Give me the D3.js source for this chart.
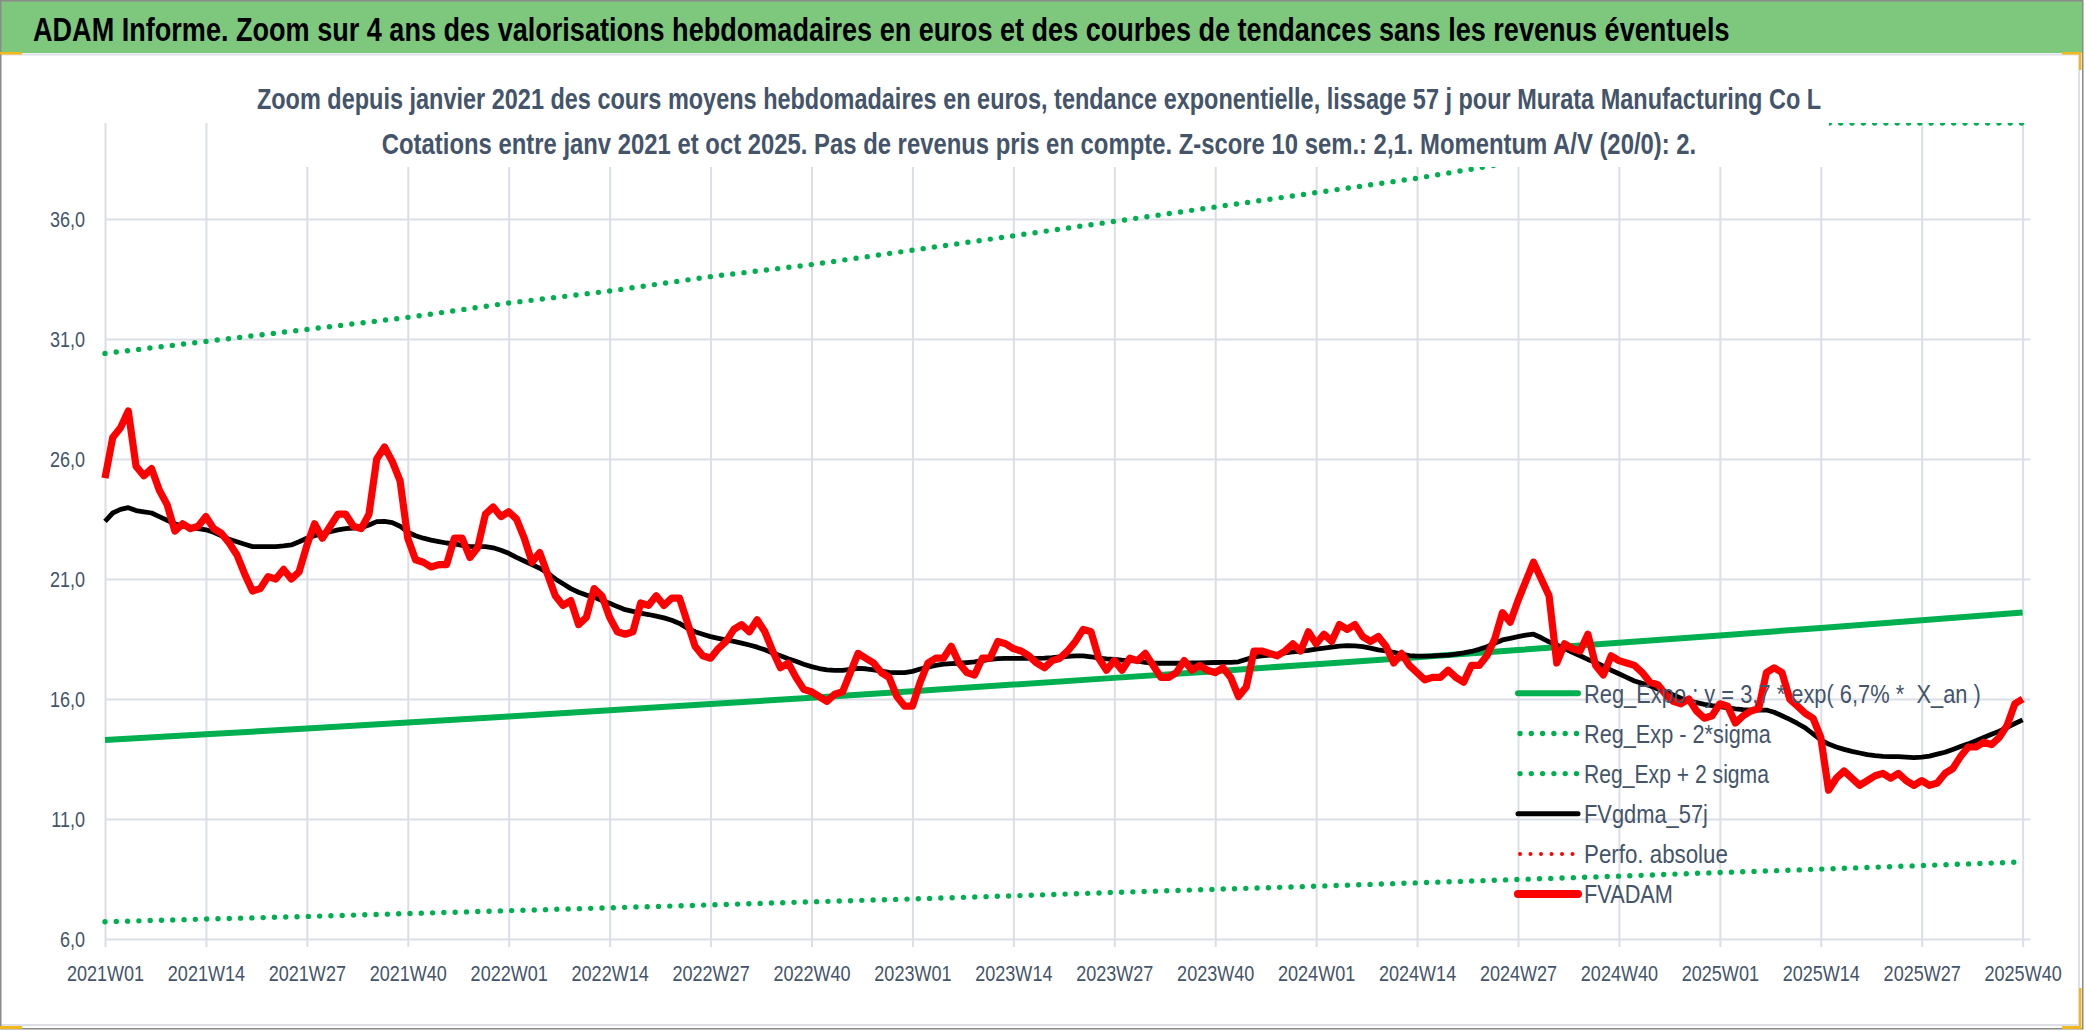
<!DOCTYPE html>
<html lang="fr">
<head>
    <meta charset="UTF-8">
    <title>ADAM Informe - Murata Manufacturing Co L</title>
    <script src="https://d3js.org/d3.v7.min.js"></script>
    <style>
        body {
            margin: 0;
            padding: 0;
            background: #ffffff;
        }
        svg {
            display: block;
            font-family: "Liberation Sans", Arial, sans-serif;
        }
    </style>
</head>
<body>
<div id="wrapper"></div>
<script>
// 1. Data

const years = ["2021", "2022", "2023", "2024", "2025"]
// ISO weeks, 52 per year here; the last category (2025W41) stays empty
const weeks = []
years.forEach(yr => {
    for (let w = 1; w <= 52; w++) weeks.push(yr + "W" + String(w).padStart(2, "0"))
})
weeks.length = 249

const tickLabels = [
    "2021W01", "2021W14", "2021W27", "2021W40",
    "2022W01", "2022W14", "2022W27", "2022W40",
    "2023W01", "2023W14", "2023W27", "2023W40",
    "2024W01", "2024W14", "2024W27", "2024W40",
    "2025W01", "2025W14", "2025W27", "2025W40"
]
const yTicks = [6, 11, 16, 21, 26, 31, 36]

// FVADAM, weekly average price in euros (2021W01 -> 2025W40)
const fvadam = [
    25.2, 26.9, 27.3, 28.0, 25.7, 25.3, 25.6, 24.7, 24.1, 23.0,
    23.3, 23.1, 23.2, 23.6, 23.1, 22.9, 22.5, 22.0, 21.2, 20.5,
    20.6, 21.1, 21.0, 21.4, 21.0, 21.3, 22.4, 23.3, 22.7, 23.2,
    23.7, 23.7, 23.2, 23.1, 23.7, 26.0, 26.5, 25.9, 25.1, 22.7,
    21.8, 21.7, 21.5, 21.6, 21.6, 22.7, 22.7, 21.9, 22.3, 23.7,
    24.0, 23.6, 23.8, 23.5, 22.7, 21.7, 22.1, 21.2, 20.3, 19.9,
    20.1, 19.1, 19.4, 20.6, 20.3, 19.4, 18.8, 18.7, 18.8, 20.0,
    19.9, 20.3, 19.9, 20.2, 20.2, 19.2, 18.2, 17.8, 17.7, 18.1,
    18.4, 18.9, 19.1, 18.8, 19.3, 18.8, 18.0, 17.3, 17.5, 16.9,
    16.4, 16.3, 16.1, 15.9, 16.2, 16.3, 17.1, 17.9, 17.7, 17.5,
    17.1, 16.9, 16.1, 15.7, 15.7, 16.7, 17.5, 17.7, 17.7, 18.2,
    17.5, 17.1, 17.0, 17.7, 17.7, 18.4, 18.3, 18.1, 18.0, 17.8,
    17.5, 17.3, 17.6, 17.7, 18.0, 18.4, 18.9, 18.8, 17.7, 17.2,
    17.6, 17.2, 17.7, 17.6, 17.9, 17.4, 16.9, 16.9, 17.1, 17.6,
    17.2, 17.4, 17.2, 17.1, 17.3, 16.9, 16.1, 16.5, 18.0, 18.0,
    17.9, 17.8, 18.0, 18.3, 18.0, 18.8, 18.3, 18.7, 18.4, 19.1,
    18.9, 19.1, 18.6, 18.4, 18.6, 18.2, 17.5, 17.9, 17.4, 17.1,
    16.8, 16.9, 16.9, 17.2, 16.9, 16.7, 17.4, 17.4, 17.8, 18.5,
    19.6, 19.2, 20.1, 20.9, 21.7, 21.0, 20.3, 17.5, 18.3, 18.1,
    18.0, 18.7, 17.4, 17.0, 17.8, 17.6, 17.5, 17.4, 17.1, 16.7,
    16.6, 16.2, 15.9, 15.8, 16.0, 15.5, 15.2, 15.3, 15.8, 15.7,
    15.0, 15.3, 15.5, 15.6, 17.1, 17.3, 17.1, 16.0, 15.7, 15.4,
    15.2, 14.4, 12.2, 12.7, 13.0, 12.7, 12.4, 12.6, 12.8, 12.9,
    12.7, 12.9, 12.6, 12.4, 12.6, 12.4, 12.5, 12.9, 13.1, 13.6,
    14.0, 14.0, 14.2, 14.1, 14.4, 14.9, 15.8, 16.0
]

// FVgdma_57j, smoothed curve
const fvgdma = [
    23.40, 23.75, 23.90, 23.97, 23.85, 23.80, 23.75, 23.60, 23.45, 23.30,
    23.20, 23.15, 23.10, 23.05, 22.95, 22.80, 22.65, 22.55, 22.45, 22.35,
    22.35, 22.35, 22.35, 22.38, 22.42, 22.55, 22.70, 22.80, 22.90, 22.97,
    23.05, 23.10, 23.12, 23.14, 23.25, 23.39, 23.40, 23.35, 23.20, 22.95,
    22.80, 22.70, 22.62, 22.56, 22.50, 22.46, 22.40, 22.35, 22.35, 22.35,
    22.30, 22.20, 22.07, 21.90, 21.75, 21.60, 21.45, 21.25, 21.00, 20.80,
    20.60, 20.45, 20.33, 20.25, 20.10, 19.99, 19.85, 19.72, 19.65, 19.58,
    19.52, 19.45, 19.38, 19.28, 19.15, 18.95, 18.80, 18.70, 18.60, 18.53,
    18.46, 18.40, 18.33, 18.25, 18.16, 18.05, 17.92, 17.80, 17.68, 17.57,
    17.45, 17.35, 17.27, 17.21, 17.19, 17.19, 17.23, 17.28, 17.26, 17.21,
    17.16, 17.11, 17.10, 17.10, 17.15, 17.25, 17.33, 17.40, 17.45, 17.47,
    17.49, 17.52, 17.55, 17.60, 17.65, 17.68, 17.69, 17.69, 17.69, 17.69,
    17.69, 17.70, 17.72, 17.75, 17.78, 17.80, 17.80, 17.76, 17.70, 17.67,
    17.65, 17.62, 17.60, 17.58, 17.53, 17.49, 17.49, 17.49, 17.49, 17.49,
    17.50, 17.50, 17.51, 17.52, 17.53, 17.53, 17.55, 17.65, 17.75, 17.80,
    17.83, 17.86, 17.92, 17.96, 18.00, 18.03, 18.08, 18.12, 18.16, 18.20,
    18.22, 18.21, 18.18, 18.12, 18.05, 18.00, 17.94, 17.87, 17.81, 17.79,
    17.79, 17.80, 17.82, 17.83, 17.87, 17.92, 17.98, 18.07, 18.18, 18.32,
    18.46, 18.53, 18.60, 18.66, 18.70, 18.55, 18.38, 18.25, 18.10, 17.95,
    17.80, 17.65, 17.52, 17.37, 17.20, 17.05, 16.90, 16.75, 16.65, 16.55,
    16.42, 16.30, 16.17, 16.03, 15.92, 15.85, 15.78, 15.72, 15.68, 15.63,
    15.59, 15.56, 15.54, 15.54, 15.54, 15.45, 15.30, 15.15, 14.98, 14.80,
    14.55, 14.30, 14.12, 14.00, 13.90, 13.82, 13.75, 13.68, 13.64, 13.61,
    13.60, 13.60, 13.58, 13.56, 13.58, 13.62, 13.70, 13.78, 13.90, 14.02,
    14.13, 14.26, 14.40, 14.53, 14.66, 14.82, 14.98, 15.13
]

// trend curves, read at each labelled week
const regExpo = [14.29, 14.53, 14.77, 15.02, 15.27, 15.53, 15.79, 16.05, 16.32, 16.60,
                 16.88, 17.16, 17.45, 17.74, 18.04, 18.34, 18.65, 18.96, 19.28, 19.60]
const regMinus = [6.72, 6.83, 6.94, 7.06, 7.18, 7.30, 7.42, 7.55, 7.67, 7.80,
                  7.94, 8.07, 8.20, 8.34, 8.48, 8.62, 8.77, 8.91, 9.06, 9.21]
const regPlus = [30.4, 30.9, 31.4, 31.9, 32.5, 33.0, 33.6, 34.1, 34.7, 35.3,
                 35.9, 36.5, 37.1, 37.7, 38.4, 39.0, 39.7, 40.3, 41.0, 41.7]

const legendLabels = [
    "Reg_Expo : y = 3,7 * exp( 6,7% *  X_an )",
    "Reg_Exp - 2*sigma",
    "Reg_Exp + 2 sigma",
    "FVgdma_57j",
    "Perfo. absolue",
    "FVADAM"
]

// 2. Dimensions

const dimensions = {
    width: 2086,
    height: 1031,
    plotLeft: 105,
    plotRight: 2030.4,
    plotTop: 123,
    plotBottom: 939,
}

const green = "#00b050"
const textGrey = "#44546a"
const gridGrey = "#dadee6"

// 3. Canvas

const svg = d3.select("#wrapper")
    .append("svg")
        .attr("width", dimensions.width)
        .attr("height", dimensions.height)

svg.append("rect")
    .attr("width", dimensions.width)
    .attr("height", dimensions.height)
    .attr("fill", "#ffffff")

// narrow the text horizontally around its anchor (Calibri-like look).
// k is a ratio, or a function giving the target width in px
function squeeze(sel, k) {
    sel.each(function (d) {
        const t = d3.select(this)
        const x = +t.attr("x") || 0
        const y = +t.attr("y") || 0
        const ratio = typeof k === "function" ? k(d) / this.getComputedTextLength() : k
        t.attr("x", 0).attr("y", 0)
            .attr("transform", `translate(${x}, ${y}) scale(${ratio}, 1)`)
    })
}

// 4. Scales

const xScale = d3.scalePoint()
    .domain(weeks)
    .range([dimensions.plotLeft, dimensions.plotRight])

const yScale = d3.scaleLinear()
    .domain([6, 40])
    .range([dimensions.plotBottom, dimensions.plotTop])

const yClamped = yScale.copy().clamp(true)

// 5. Grid and axes

const xGrid = svg.append("g")
    .attr("transform", `translate(0, ${dimensions.plotBottom})`)
    .call(d3.axisBottom(xScale)
        .tickValues(tickLabels)
        .tickSize(0))
xGrid.select(".domain").remove()
xGrid.selectAll(".tick line")
    .attr("y1", 8)
    .attr("y2", -(dimensions.plotBottom - dimensions.plotTop))
    .attr("stroke", gridGrey)
    .attr("stroke-width", 2)
xGrid.selectAll(".tick text")
    .attr("dy", null)
    .attr("y", 42)
    .attr("fill", textGrey)
    .style("font-size", "22px")
    .call(squeeze, 0.82)

const yGrid = svg.append("g")
    .attr("transform", `translate(${dimensions.plotLeft}, 0)`)
    .call(d3.axisLeft(yScale)
        .tickValues(yTicks)
        .tickSize(-(dimensions.plotRight - dimensions.plotLeft))
        .tickFormat(d => d3.format(".1f")(d).replace(".", ",")))
yGrid.select(".domain").remove()
yGrid.selectAll(".tick line")
    .attr("stroke", gridGrey)
    .attr("stroke-width", 2)
yGrid.selectAll(".tick text")
    .attr("x", -20)
    .attr("dy", "0.36em")
    .attr("fill", textGrey)
    .style("font-size", "22px")
    .call(squeeze, 0.82)

// 6. Series

svg.append("defs").append("clipPath")
    .attr("id", "plotClip")
    .append("rect")
        .attr("x", dimensions.plotLeft - 10)
        .attr("y", dimensions.plotTop)
        .attr("width", dimensions.plotRight - dimensions.plotLeft + 20)
        .attr("height", dimensions.plotBottom - dimensions.plotTop + 10)

const series = svg.append("g").attr("clip-path", "url(#plotClip)")

const trendLine = d3.line()
    .x((d, i) => xScale(tickLabels[i]))
    .y(d => yClamped(d))

const weekLine = d3.line()
    .x((d, i) => xScale(weeks[i]))
    .y(d => yScale(d))

series.append("path")
    .attr("d", trendLine(regExpo))
    .attr("fill", "none")
    .attr("stroke", green)
    .attr("stroke-width", 6)

const dotted = [regMinus, regPlus]
dotted.forEach(vals => {
    series.append("path")
        .attr("d", trendLine(vals))
        .attr("fill", "none")
        .attr("stroke", green)
        .attr("stroke-width", 5.4)
        .attr("stroke-linecap", "round")
        .attr("stroke-dasharray", "0 11.3")
})

series.append("path")
    .attr("d", weekLine(fvgdma))
    .attr("fill", "none")
    .attr("stroke", "#000000")
    .attr("stroke-width", 4.8)
    .attr("stroke-linejoin", "round")

series.append("path")
    .attr("d", weekLine(fvadam))
    .attr("fill", "none")
    .attr("stroke", "#ff0000")
    .attr("stroke-width", 7.2)
    .attr("stroke-linejoin", "round")

// 7. Titles

svg.append("rect")
    .attr("x", 0).attr("y", 0)
    .attr("width", 2083).attr("height", 53)
    .attr("fill", "#7ec87e")

svg.append("text")
    .datum(1697)
    .attr("x", 33)
    .attr("y", 41)
    .attr("fill", "#000000")
    .attr("font-weight", 700)
    .style("font-size", "33px")
    .text("ADAM Informe. Zoom sur 4 ans des valorisations hebdomadaires en euros et des courbes de tendances sans les revenus éventuels")
    .call(squeeze, d => d)

// subtitle box hides the grid behind it
svg.append("rect")
    .attr("x", 252).attr("y", 62)
    .attr("width", 1829 - 252).attr("height", 167 - 62)
    .attr("fill", "#ffffff")

const subtitles = [
    { text: "Zoom depuis janvier 2021 des cours moyens hebdomadaires en euros, tendance exponentielle, lissage 57 j pour Murata Manufacturing Co L", y: 109, w: 1565 },
    { text: "Cotations entre janv 2021 et oct 2025. Pas de revenus pris en compte. Z-score 10 sem.: 2,1. Momentum A/V (20/0): 2.", y: 154, w: 1315 },
]
svg.selectAll(".subtitle")
    .data(subtitles)
    .enter()
    .append("text")
        .attr("class", "subtitle")
        .attr("x", 1039)
        .attr("y", d => d.y)
        .attr("text-anchor", "middle")
        .attr("fill", textGrey)
        .attr("font-weight", 700)
        .style("font-size", "29px")
        .text(d => d.text)
        .call(squeeze, d => d.w)

// 8. Legend

const legendStyles = [
    { color: green, width: 6, dash: null },
    { color: green, width: 5.4, dash: "0 11.3" },
    { color: green, width: 5.4, dash: "0 11.3" },
    { color: "#000000", width: 5, dash: null },
    { color: "#ff0000", width: 4, dash: "0 10.5" },
    { color: "#ff0000", width: 8, dash: null },
]
const legendWidths = [397, 187, 185, 124, 144, 89]

const legend = svg.append("g")
legendLabels.forEach((label, i) => {
    const ly = 693.3 + i * 40.15
    const st = legendStyles[i]
    legend.append("line")
        .attr("x1", st.dash ? 1520 : 1518)
        .attr("x2", st.dash ? 1577 : 1578)
        .attr("y1", ly).attr("y2", ly)
        .attr("stroke", st.color)
        .attr("stroke-width", st.width)
        .attr("stroke-linecap", "round")
        .attr("stroke-dasharray", st.dash)
    legend.append("text")
        .datum(legendWidths[i])
        .attr("x", 1584)
        .attr("y", ly)
        .attr("dy", "0.36em")
        .attr("fill", textGrey)
        .style("font-size", "26px")
        .style("white-space", "pre")
        .text(label)
        .call(squeeze, d => d)
})

// 9. Frame

const frame = svg.append("g")
frame.append("line")
    .attr("x1", 0).attr("x2", 2079).attr("y1", 54.5).attr("y2", 54.5)
    .attr("stroke", "#dcdfe5").attr("stroke-width", 2)
frame.append("line")
    .attr("x1", 2079).attr("x2", 2079).attr("y1", 54).attr("y2", 1025)
    .attr("stroke", "#dcdfe5").attr("stroke-width", 2)
frame.append("line")
    .attr("x1", 0).attr("x2", 2079).attr("y1", 1025).attr("y2", 1025)
    .attr("stroke", "#dcdfe5").attr("stroke-width", 2)
frame.append("rect")
    .attr("x", 0.75).attr("y", 0.75)
    .attr("width", 2082).attr("height", 1028)
    .attr("fill", "none")
    .attr("stroke", "#8a8a8a")
    .attr("stroke-width", 1.5)

const marks = [
    [0, 52, 22, 2.5], [2062, 52, 19, 2.5], [2079, 52, 2.5, 18],
    [0, 1026, 22, 3], [2062, 1026, 19, 3], [2079, 988, 2.5, 41]
]
frame.selectAll(".mark")
    .data(marks)
    .enter()
    .append("rect")
        .attr("class", "mark")
        .attr("x", d => d[0]).attr("y", d => d[1])
        .attr("width", d => d[2]).attr("height", d => d[3])
        .attr("fill", "#f2b71b")
</script>
</body>
</html>
